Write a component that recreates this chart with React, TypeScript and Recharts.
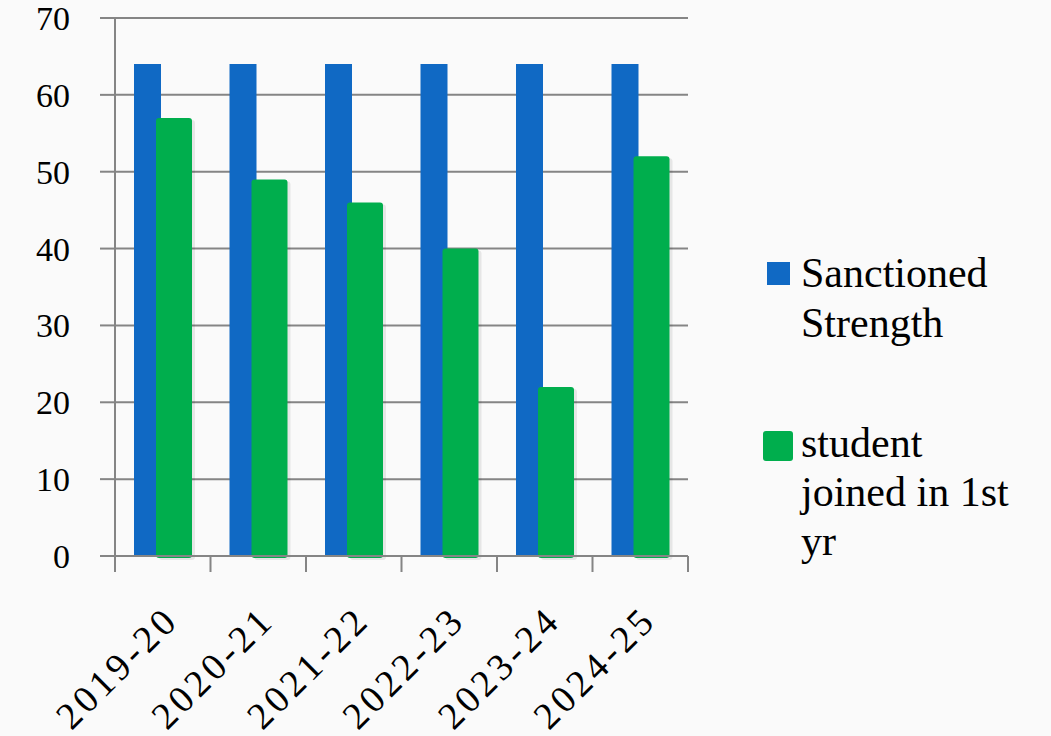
import React from 'react';
import { BarChart, Bar, XAxis, YAxis, CartesianGrid } from 'recharts';

const categories = ['2019-20', '2020-21', '2021-22', '2022-23', '2023-24', '2024-25'];
const sanctionedStrength = [64, 64, 64, 64, 64, 64];
const studentsJoined = [57, 49, 46, 40, 22, 52];
const yTicks = [0, 10, 20, 30, 40, 50, 60, 70];
const seriesNames = ['Sanctioned Strength', 'student joined in 1st yr'];

const BLUE = '#1069c4';
const GREEN = '#00ae4d';
const GRID = '#858585';
const FONT = '"Liberation Serif", "Times New Roman", serif';

const W = 1051;
const H = 736;
const MARGIN = { top: 18, right: 363, left: 0, bottom: 0 };
const Y_AXIS_W = 115;
const BAND = (W - MARGIN.right - Y_AXIS_W) / categories.length;

const data = categories.map((year, i) => ({
  year,
  sanctioned: sanctionedStrength[i],
  joined: studentsJoined[i],
}));

function YearTick(props: any) {
  const { x, y, payload, index } = props;
  const last = index === categories.length - 1;
  const tx = x + 18;
  const ty = y + 66;
  return (
    <g>
      <line x1={x - BAND / 2} x2={x - BAND / 2} y1={y} y2={y + 16} stroke={GRID} strokeWidth={2} />
      {last && <line x1={x + BAND / 2} x2={x + BAND / 2} y1={y} y2={y + 16} stroke={GRID} strokeWidth={2} />}
      <text
        x={tx}
        y={ty}
        textAnchor="end"
        transform={`rotate(-45, ${tx}, ${ty})`}
        fontFamily={FONT}
        fontSize={38}
        letterSpacing={4}
        fill="#000"
      >
        {payload.value}
      </text>
    </g>
  );
}

function ShadowBar(props: any) {
  const { x, y, width, height, fill } = props;
  if (height <= 0) return null;
  return (
    <g>
      <rect x={x + 3} y={y + 2} width={width} height={height + 2} rx={3} fill="rgba(0,0,0,0.08)" />
      <rect x={x} y={y} width={width} height={height + 2} rx={3} fill={fill} />
    </g>
  );
}

export default function App() {
  return (
    <div style={{ position: 'fixed', left: 0, top: 0, width: W, height: H, background: '#fafafa' }}>
      <BarChart width={W} height={H} data={data} margin={MARGIN} barGap={-5}>
        <CartesianGrid vertical={false} stroke={GRID} strokeWidth={2} />
        <YAxis
          width={Y_AXIS_W}
          domain={[0, 70]}
          ticks={yTicks}
          interval={0}
          tickSize={15}
          tickMargin={30}
          axisLine={{ stroke: GRID, strokeWidth: 2 }}
          tickLine={{ stroke: GRID, strokeWidth: 2 }}
          tick={{ fill: '#000', fontSize: 34, fontFamily: FONT }}
        />
        <XAxis
          dataKey="year"
          height={180}
          interval={0}
          tickSize={0}
          tickMargin={0}
          tickLine={false}
          axisLine={{ stroke: GRID, strokeWidth: 2 }}
          tick={<YearTick />}
        />
        <Bar dataKey="sanctioned" name={seriesNames[0]} fill={BLUE} barSize={27} isAnimationActive={false} />
        <Bar
          dataKey="joined"
          name={seriesNames[1]}
          fill={GREEN}
          barSize={36}
          shape={<ShadowBar />}
          isAnimationActive={false}
        />
      </BarChart>
      <div style={{ position: 'absolute', left: 767, top: 262, width: 23, height: 23, background: BLUE }} />
      <div
        style={{
          position: 'absolute',
          left: 801,
          top: 248,
          width: 240,
          fontFamily: FONT,
          fontSize: 42,
          lineHeight: '50px',
          color: '#000',
        }}
      >
        Sanctioned
        <br />
        Strength
      </div>
      <div
        style={{
          position: 'absolute',
          left: 763,
          top: 431,
          width: 30,
          height: 30,
          borderRadius: 3,
          background: GREEN,
        }}
      />
      <div
        style={{
          position: 'absolute',
          left: 801,
          top: 419,
          width: 250,
          fontFamily: FONT,
          fontSize: 42,
          lineHeight: '49px',
          color: '#000',
        }}
      >
        student
        <br />
        joined in 1st
        <br />
        yr
      </div>
    </div>
  );
}
